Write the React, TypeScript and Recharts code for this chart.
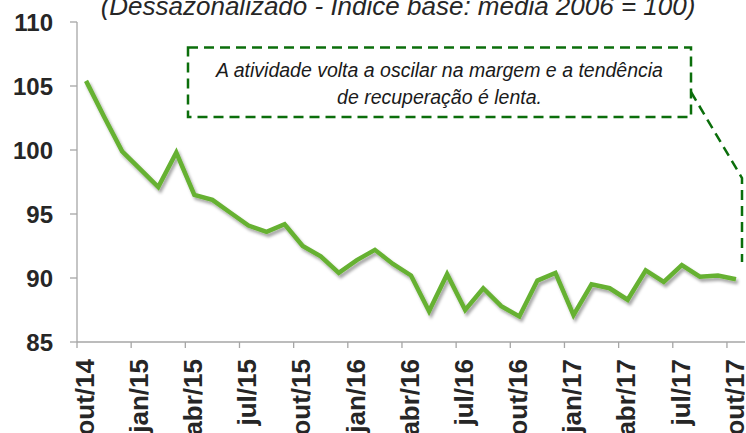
import React from 'react';
import { LineChart, Line, XAxis, YAxis, Customized } from 'recharts';

const MONTHS = [
  'out/14', 'nov/14', 'dez/14', 'jan/15', 'fev/15', 'mar/15', 'abr/15', 'mai/15', 'jun/15', 'jul/15', 'ago/15', 'set/15',
  'out/15', 'nov/15', 'dez/15', 'jan/16', 'fev/16', 'mar/16', 'abr/16', 'mai/16', 'jun/16', 'jul/16', 'ago/16', 'set/16',
  'out/16', 'nov/16', 'dez/16', 'jan/17', 'fev/17', 'mar/17', 'abr/17', 'mai/17', 'jun/17', 'jul/17', 'ago/17', 'set/17',
  'out/17',
];

const ACTIVITY = [
  105.4, 102.6, 99.9, 98.5, 97.1, 99.8, 96.5, 96.1, 95.1, 94.1, 93.6, 94.2,
  92.5, 91.7, 90.4, 91.4, 92.2, 91.1, 90.2, 87.4, 90.3, 87.5, 89.2, 87.8,
  87.0, 89.8, 90.4, 87.1, 89.5, 89.2, 88.3, 90.6, 89.7, 91.0, 90.1, 90.2,
  89.9,
];

const Y_TICKS = [85, 90, 95, 100, 105, 110];
const TITLE = '(Dessazonalizado - Índice base: média 2006 = 100)';
const NOTE_LINES = ['A atividade volta a oscilar na margem e a tendência', 'de recuperação é lenta.'];

const data = MONTHS.map((m, i) => ({ month: m, value: ACTIVITY[i] }));

const W = 746;
const H = 433;
const LEFT = 77;
const RIGHT = 1;
const TOP = 22;
const XAXIS_H = 91;
const AXIS_Y = H - XAXIS_H;
const PLOT_W = W - LEFT - RIGHT;
const BAND = PLOT_W / MONTHS.length;
const FONT = '"Liberation Sans", Arial, Helvetica, sans-serif';
const AXIS_COLOR = '#a6a6a6';
const TEXT_COLOR = '#262626';
const NOTE_GREEN = '#0b6e0b';

const XTick = (props: any) => {
  const { x, payload } = props;
  const bx = x - BAND / 2;
  const ty = AXIS_Y + 17;
  return (
    <g>
      <line x1={bx} y1={AXIS_Y} x2={bx} y2={AXIS_Y + 6} stroke={AXIS_COLOR} strokeWidth={1.3} />
      <text
        x={x}
        y={ty}
        transform={`rotate(-90, ${x}, ${ty})`}
        textAnchor="end"
        dy="0.3em"
        fill={TEXT_COLOR}
        fontFamily={FONT}
        fontWeight="bold"
        fontSize={26}
      >
        {payload.value}
      </text>
    </g>
  );
};

const Annotation = () => (
  <g>
    <text
      x={398}
      y={15}
      textAnchor="middle"
      fontFamily={FONT}
      fontStyle="italic"
      fontSize={26}
      fill={TEXT_COLOR}
    >
      {TITLE}
    </text>
    <rect
      x={188}
      y={47.5}
      width={503}
      height={69.5}
      fill="none"
      stroke={NOTE_GREEN}
      strokeWidth={2.5}
      strokeDasharray="10 6"
    />
    <polyline
      points="691,92 742,178 742,262"
      fill="none"
      stroke={NOTE_GREEN}
      strokeWidth={2.5}
      strokeDasharray="10 6"
    />
    {NOTE_LINES.map((t, i) => (
      <text
        key={i}
        x={439.5}
        y={77 + i * 27}
        textAnchor="middle"
        fontFamily={FONT}
        fontStyle="italic"
        fontSize={19.5}
        fill="#1a1a1a"
      >
        {t}
      </text>
    ))}
  </g>
);

export default function App() {
  return (
    <div style={{ position: 'absolute', left: 0, top: 0, width: W, height: H, background: '#fff' }}>
      <LineChart
        width={W}
        height={H}
        data={data}
        margin={{ top: TOP, right: RIGHT, bottom: 0, left: 0 }}
      >
        <defs>
          <filter id="lineShadow" x="-10%" y="-10%" width="120%" height="130%">
            <feDropShadow dx="2" dy="3" stdDeviation="1.6" floodColor="#000" floodOpacity="0.35" />
          </filter>
        </defs>
        <XAxis
          dataKey="month"
          interval={2}
          padding={{ left: BAND / 2, right: BAND / 2 }}
          tickLine={false}
          tickSize={0}
          tickMargin={0}
          height={XAXIS_H}
          axisLine={{ stroke: AXIS_COLOR, strokeWidth: 1.3 }}
          tick={<XTick />}
        />
        <YAxis
          domain={[85, 110]}
          ticks={Y_TICKS}
          width={LEFT}
          tickSize={7}
          tickMargin={17}
          axisLine={{ stroke: AXIS_COLOR, strokeWidth: 1.3 }}
          tickLine={{ stroke: AXIS_COLOR, strokeWidth: 1.3 }}
          tick={{ fill: TEXT_COLOR, fontFamily: FONT, fontWeight: 'bold', fontSize: 24 }}
          allowDataOverflow
        />
        <Line
          type="linear"
          dataKey="value"
          stroke="#66b132"
          strokeWidth={4.5}
          dot={false}
          activeDot={false}
          isAnimationActive={false}
          filter="url(#lineShadow)"
        />
        <Customized component={Annotation} />
      </LineChart>
    </div>
  );
}
